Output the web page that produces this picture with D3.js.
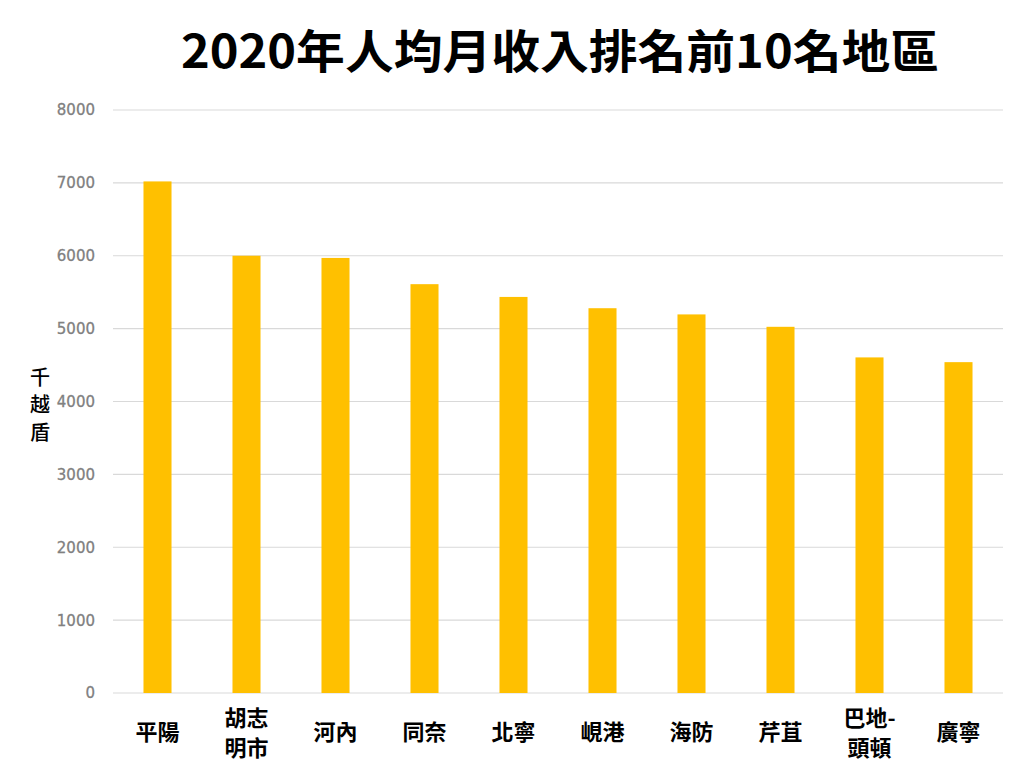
<!DOCTYPE html>
<html>
<head>
<meta charset="utf-8">
<script src="https://cdn.jsdelivr.net/npm/d3@7"></script>
<style>
  html, body { margin: 0; padding: 0; background: #ffffff; }
  svg { display: block; }
</style>
</head>
<body>
<svg id="chart" width="1024" height="784"></svg>
<script>
const categories = ["平陽", "胡志明市", "河內", "同奈", "北寧", "峴港", "海防", "芹苴", "巴地-頭頓", "廣寧"];
const categoryLines = [["平陽"], ["胡志", "明市"], ["河內"], ["同奈"], ["北寧"], ["峴港"], ["海防"], ["芹苴"], ["巴地-", "頭頓"], ["廣寧"]];
const incomeValues = [7020, 6000, 5970, 5610, 5435, 5280, 5195, 5025, 4605, 4540];
const yTicks = [0, 1000, 2000, 3000, 4000, 5000, 6000, 7000, 8000];
const titleText = "2020年人均月收入排名前10名地區";
const yAxisTitle = ["千", "越", "盾"];

const svg = d3.select("#chart");
const plotLeft = 113, plotRight = 1003, plotTop = 110, plotBottom = 693;

const x = d3.scaleBand().domain(categories).range([plotLeft, plotRight]).paddingInner(0.685).paddingOuter(0.3425);
const y = d3.scaleLinear().domain([0, 8000]).range([plotBottom, plotTop]);

// gridlines
svg.append("g").selectAll("line").data(yTicks).join("line")
  .attr("x1", plotLeft).attr("x2", plotRight)
  .attr("y1", d => y(d)).attr("y2", d => y(d))
  .attr("stroke", "#d9d9d9").attr("stroke-width", 1.2);

// y tick labels
svg.append("g").selectAll("text").data(yTicks).join("text")
  .attr("x", 95).attr("y", d => y(d))
  .attr("dy", "0.36em")
  .attr("text-anchor", "end")
  .attr("font-family", "DejaVu Sans, sans-serif")
  .attr("font-size", 15)
  .attr("fill", "#808080")
  .attr("stroke", "#808080")
  .attr("stroke-width", 0.3)
  .text(d => d);

// bars
svg.append("g").selectAll("rect").data(incomeValues).join("rect")
  .attr("x", (d, i) => x(categories[i]))
  .attr("width", x.bandwidth())
  .attr("y", d => y(d))
  .attr("height", d => y(0) - y(d))
  .attr("fill", "#FFC000");

// x labels
const xl = svg.append("g").selectAll("text").data(categories).join("text")
  .attr("text-anchor", "middle")
  .attr("font-family", "'Noto Sans CJK TC', sans-serif")
  .attr("font-weight", 700)
  .attr("font-size", 22)
  .attr("fill", "#000");
xl.each(function(d, i) {
  const lines = categoryLines[i];
  const cx = x(d) + x.bandwidth() / 2;
  const startY = lines.length === 1 ? 740 : 726;
  d3.select(this).selectAll("tspan").data(lines).join("tspan")
    .attr("x", cx)
    .attr("y", (t, j) => startY + j * 30)
    .text(t => t);
});

// y axis title (stacked)
svg.append("g").selectAll("text").data(yAxisTitle).join("text")
  .attr("x", 40).attr("y", (d, i) => 384.5 + i * 27.5)
  .attr("text-anchor", "middle")
  .attr("font-family", "'Noto Sans CJK TC', sans-serif")
  .attr("font-weight", 500)
  .attr("font-size", 20)
  .attr("fill", "#000")
  .text(d => d);

// title
svg.append("text")
  .attr("x", 560).attr("y", 68)
  .attr("text-anchor", "middle")
  .attr("font-family", "'Noto Sans CJK TC', sans-serif")
  .attr("font-weight", 700)
  .attr("font-size", 46)
  .attr("textLength", 758)
  .attr("lengthAdjust", "spacingAndGlyphs")
  .attr("fill", "#000")
  .text(titleText);
</script>
</body>
</html>
